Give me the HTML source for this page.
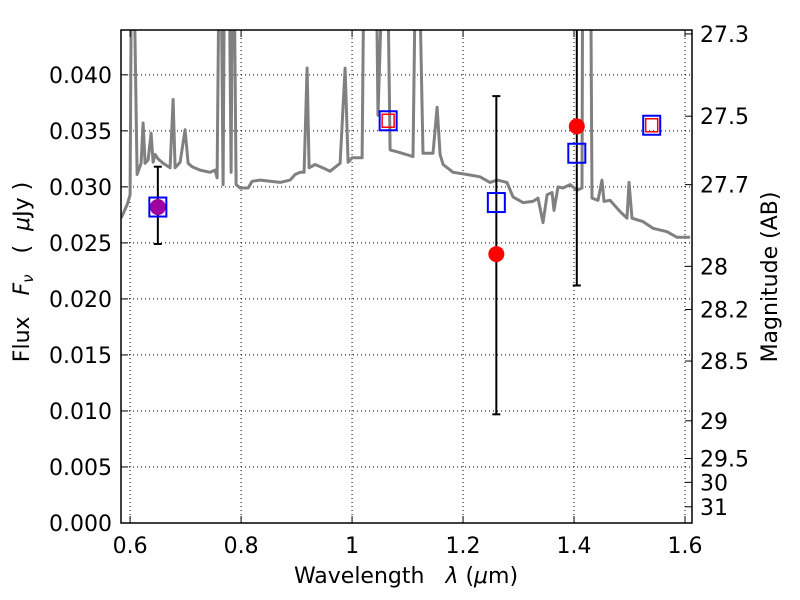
<!DOCTYPE html>
<html><head><meta charset="utf-8"><style>
body{margin:0;background:#fff;}
svg{display:block;font-family:"DejaVu Sans",sans-serif;}
text{font-family:"DejaVu Sans",sans-serif;}
</style></head><body>
<svg id="chart" width="800" height="600" viewBox="0 0 800 600"></svg>
<script>
const specWave=[0.5838,0.5946,0.600,0.6036,0.6126,0.6198,0.6234,0.6270,0.6324,0.6378,0.6414,0.6450,0.6505,0.6595,0.6721,0.6775,0.6811,0.6901,0.6991,0.7045,0.7117,0.7261,0.7441,0.7532,0.7568,0.7622,0.7676,0.7712,0.7766,0.7820,0.7856,0.7910,0.7982,0.8126,0.8198,0.8342,0.8523,0.8703,0.8883,0.8973,0.9063,0.9135,0.9189,0.9225,0.9333,0.9514,0.9604,0.9784,0.9874,0.9928,1.0000,1.0180,1.0234,1.0414,1.0468,1.0613,1.0685,1.0829,1.1099,1.1171,1.1279,1.1459,1.1532,1.1586,1.1640,1.1820,1.2072,1.2306,1.2486,1.2613,1.2793,1.2901,1.3081,1.3261,1.3351,1.3441,1.3514,1.3604,1.3640,1.3712,1.3802,1.3928,1.4054,1.4144,1.4162,1.4288,1.4324,1.4432,1.4505,1.4541,1.4649,1.4829,1.4955,1.4991,1.5045,1.5243,1.5423,1.5676,1.5856,1.6090];
const specFlux=[0.0272,0.0284,0.0293,0.06,0.0311,0.0321,0.0357,0.0321,0.0324,0.0348,0.0322,0.0329,0.0325,0.0321,0.0317,0.0378,0.0317,0.0322,0.0351,0.0321,0.0318,0.0315,0.0313,0.0315,0.0308,0.06,0.0302,0.06,0.06,0.0313,0.06,0.0302,0.0299,0.0299,0.0305,0.0306,0.0305,0.0304,0.0306,0.0311,0.0313,0.0313,0.0406,0.0317,0.0320,0.0316,0.0314,0.0321,0.0406,0.0322,0.0326,0.0326,0.06,0.06,0.0364,0.06,0.0333,0.0331,0.0327,0.06,0.0330,0.0330,0.0371,0.0329,0.0320,0.0313,0.0311,0.0309,0.0304,0.0306,0.0304,0.0291,0.0286,0.0287,0.0290,0.0268,0.0293,0.0295,0.0279,0.0300,0.0299,0.0302,0.0297,0.0299,0.06,0.06,0.0290,0.0288,0.0306,0.0287,0.0288,0.0278,0.0272,0.0304,0.0272,0.0269,0.0263,0.0260,0.0255,0.0255];
const obsWave=[0.65,1.26,1.405];
const obsFlux=[0.0282,0.0240,0.0354];
const obsLow=[0.0249,0.0097,0.0212];
const obsHigh=[0.0318,0.0381,0.060];
const obsColor=['#a000a0','#ff0000','#ff0000'];
const modWave=[0.65,1.065,1.26,1.405,1.54];
const modFlux=[0.0282,0.0359,0.0286,0.0330,0.0355];
const redSqWave=[1.065,1.54];
const redSqFlux=[0.0359,0.0355];
const xTicks=[0.6,0.8,1.0,1.2,1.4,1.6];
const xTickLabels=['0.6','0.8','1','1.2','1.4','1.6'];
const yTicks=[0,0.005,0.010,0.015,0.020,0.025,0.030,0.035,0.040];
const yTickLabels=['0.000','0.005','0.010','0.015','0.020','0.025','0.030','0.035','0.040'];
const magTicks=[27.3,27.5,27.7,28,28.2,28.5,29,29.5,30,31];
const magTickLabels=['27.3','27.5','27.7','28','28.2','28.5','29','29.5','30','31'];

const FS='22px';
const L=121,R=692,T=30,B=523;
const xMin=0.5836,xMax=1.6126,yMin=0,yMax=0.044;
const sx=v=>L+(v-xMin)/(xMax-xMin)*(R-L);
const sy=v=>B-(v-yMin)/(yMax-yMin)*(B-T);
const magToFlux=m=>Math.pow(10,(23.9-m)/2.5);
const svg=document.getElementById('chart');
const NS='http://www.w3.org/2000/svg';
function mk(tag,attrs,parent){const e=document.createElementNS(NS,tag);for(const k in attrs)e.setAttribute(k,attrs[k]);(parent||svg).appendChild(e);return e;}

const defs=mk('defs',{});
const cp=mk('clipPath',{id:'clip'},defs);
mk('rect',{x:L,y:T,width:R-L,height:B-T},cp);

const grid=mk('g',{});


xTicks.forEach(v=>{mk('line',{x1:sx(v),x2:sx(v),y1:T,y2:B,stroke:'#000','stroke-width':1,'stroke-dasharray':'1,3'},grid);});
yTicks.forEach(v=>{mk('line',{x1:L,x2:R,y1:sy(v),y2:sy(v),stroke:'#000','stroke-width':1,'stroke-dasharray':'1,3'},grid);});

const pts=specWave.map((w,i)=>sx(w).toFixed(1)+','+sy(specFlux[i]).toFixed(1)).join(' ');
const spec=mk('polyline',{points:pts,fill:'none',stroke:'#808080','stroke-width':3,'clip-path':'url(#clip)','stroke-linejoin':'round'});



obsWave.forEach((w,i)=>{
  const g=mk('g',{'clip-path':'url(#clip)'});
  
  
  const x=sx(w);
  mk('line',{x1:x,x2:x,y1:sy(obsLow[i]),y2:sy(obsHigh[i]),stroke:'#000','stroke-width':2},g);
  mk('line',{x1:x-4,x2:x+4,y1:sy(obsLow[i]),y2:sy(obsLow[i]),stroke:'#000','stroke-width':2},g);
  mk('line',{x1:x-4,x2:x+4,y1:sy(obsHigh[i]),y2:sy(obsHigh[i]),stroke:'#000','stroke-width':2},g);
  mk('circle',{cx:x,cy:sy(obsFlux[i]),r:8,fill:obsColor[i]},g);
});
modWave.forEach((w,i)=>{
  const r=mk('rect',{x:sx(w)-8.5,y:sy(modFlux[i])-9.5,width:17,height:19,fill:'none',stroke:'#0000ff','stroke-width':2});
  
  
});
redSqWave.forEach((w,i)=>{
  const r=mk('rect',{x:sx(w)-6,y:sy(redSqFlux[i])-6.5,width:12,height:13,fill:'none',stroke:'#ff0000','stroke-width':1.5});
  
  
});

const fr=mk('rect',{x:L,y:T,width:R-L,height:B-T,fill:'none',stroke:'#000','stroke-width':1.5});



xTicks.forEach((v,i)=>{
  mk('line',{x1:sx(v),x2:sx(v),y1:B,y2:B-7,stroke:'#000'});
  mk('line',{x1:sx(v),x2:sx(v),y1:T,y2:T+7,stroke:'#000'});
  const t=mk('text',{x:sx(v),y:B+30,'text-anchor':'middle',style:'font-size:'+FS});
  t.textContent=xTickLabels[i];
  
  
});
yTicks.forEach((v,i)=>{
  mk('line',{x1:L,x2:L+7,y1:sy(v),y2:sy(v),stroke:'#000'});
  const t=mk('text',{x:L-9,y:sy(v)+8,'text-anchor':'end',style:'font-size:'+FS});
  t.textContent=yTickLabels[i];
  
  
});
magTicks.forEach((m,i)=>{
  const y=sy(magToFlux(m));
  mk('line',{x1:R,x2:R-7,y1:y,y2:y,stroke:'#000'});
  const t=mk('text',{x:R+8,y:y+8,style:'font-size:'+FS});
  t.textContent=magTickLabels[i];
  
  
});
</script>
<svg style="position:absolute;left:0;top:0;" width="800" height="600">
<text x="406" y="583" text-anchor="middle" style="font-size:22px">Wavelength&#160;&#160;&#160;<tspan font-style="italic">λ</tspan>&#160;(<tspan font-style="italic">μ</tspan>m)</text>
<text transform="translate(29,272) rotate(-90)" text-anchor="middle" style="font-size:22px">Flux&#160;&#160;&#160;<tspan font-style="italic">F</tspan><tspan font-style="italic" font-size="15" dy="4">ν</tspan><tspan dy="-4">&#160;&#160;&#160;(&#160;&#160;</tspan><tspan font-style="italic">μ</tspan>Jy&#160;)</text>
<text transform="translate(777,277) rotate(-90)" text-anchor="middle" style="font-size:22px">Magnitude (AB)</text>
</svg>
</body></html>
